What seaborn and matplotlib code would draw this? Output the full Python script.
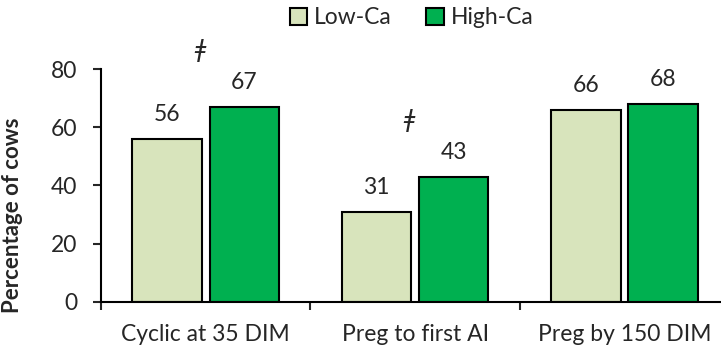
import matplotlib
matplotlib.use('Agg')
import matplotlib.pyplot as plt
import seaborn as sns
import pandas as pd
from matplotlib.ticker import FixedLocator

# dados
categorias = ['Cyclic at 35 DIM', 'Preg to first AI', 'Preg by 150 DIM']
grupos = ['Low-Ca', 'High-Ca']
low_ca = [56, 31, 66]
high_ca = [67, 43, 68]
# categorias com diferença (tendência)
marcas = ['\u01c2', '\u01c2', '']

cores = {'Low-Ca': '#D8E4BC', 'High-Ca': '#00B050'}

df = pd.DataFrame({
    'categoria': categorias * 2,
    'grupo': [grupos[0]] * 3 + [grupos[1]] * 3,
    'valor': low_ca + high_ca,
})

sns.set_style('white')
plt.rcParams['font.family'] = ['Lato', 'DejaVu Sans']

fig = plt.figure(figsize=(7.21, 3.47), dpi=100)
ax = fig.add_axes([0.140, 0.130, 0.862, 0.671])

sns.barplot(data=df, x='categoria', y='valor', hue='grupo', order=categorias,
            hue_order=grupos, palette=cores, saturation=1, width=0.737, gap=0.1,
            edgecolor='black', linewidth=1.5, ax=ax)

# rótulos acima das barras
for cont in ax.containers:
    for p in cont:
        ax.annotate(f'{p.get_height():.0f}',
                    (p.get_x() + p.get_width() / 2., p.get_height()),
                    ha='center', va='bottom', fontsize=16.5,
                    xytext=(0, 10), textcoords='offset points')

# símbolo de tendência
for i, m in enumerate(marcas):
    if m:
        ax.annotate(m, (i - 0.03, max(low_ca[i], high_ca[i])),
                    ha='center', va='bottom', fontsize=17, style='italic',
                    family=['DejaVu Sans'],
                    xytext=(0, 32), textcoords='offset points')

ax.set_ylim(0, 80)
ax.set_xlim(-0.5, 2.467)
ax.set_yticks([0, 20, 40, 60, 80])
ax.xaxis.set_minor_locator(FixedLocator([-0.5, 0.5, 1.5, 2.5]))
ax.tick_params(axis='x', which='major', length=0, pad=16, labelsize=16.5)
ax.tick_params(axis='x', which='minor', length=6, width=1.5, direction='out', bottom=True)
ax.tick_params(axis='y', length=6, width=1.5, direction='out', left=True, pad=11, labelsize=16.5)

for s in ['top', 'right']:
    ax.spines[s].set_visible(False)
for s in ['left', 'bottom']:
    ax.spines[s].set_linewidth(1.5)
    ax.spines[s].set_color('black')

ax.set_xlabel('')
ax.set_ylabel('Percentage of cows', fontsize=16, fontweight='bold')
ax.yaxis.set_label_coords(-0.125, 0.37)

ax.legend(title=None, loc='center', bbox_to_anchor=(0.5, 1.22), ncol=2,
          frameon=False, fontsize=16.5, handlelength=0.75, handleheight=0.75,
          handletextpad=0.3, columnspacing=1.5)

plt.savefig('out.png', dpi=100)
